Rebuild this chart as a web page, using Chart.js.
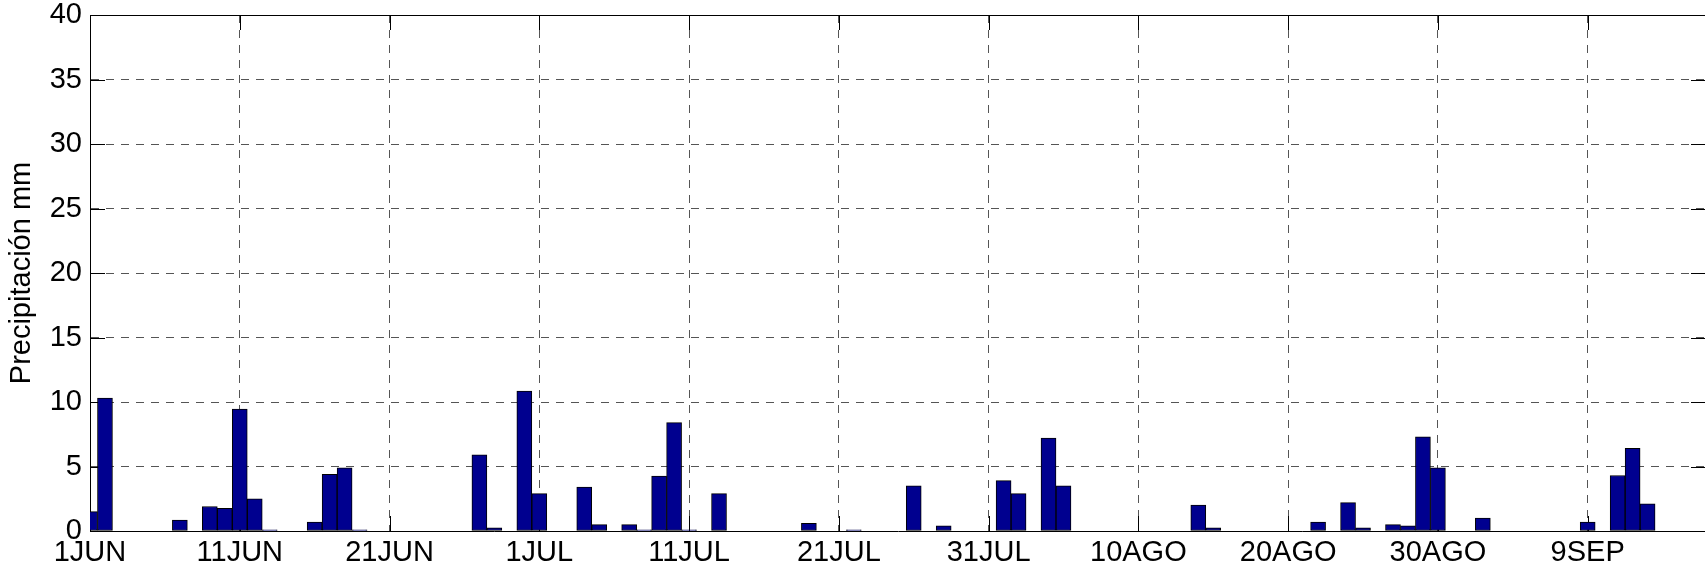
<!DOCTYPE html>
<html>
<head>
<meta charset="utf-8">
<script src="https://cdn.jsdelivr.net/npm/chart.js@4.4.1/dist/chart.umd.min.js"></script>
<style>
  html, body { margin: 0; padding: 0; background: #fff; overflow: hidden; }
  #wrap { width: 1712px; height: 572px; }
</style>
</head>
<body>
<div id="wrap"><canvas id="rain" width="1712" height="572"></canvas></div>
<script>
// daily precipitation (mm), one value per day starting 1 JUN
const precip = [
  1.5, 10.3, 0, 0, 0, 0, 0.85, 0, 1.9, 1.75,      // 1-10 JUN
  9.45, 2.5, 0.1, 0, 0, 0.7, 4.4, 4.9, 0.1, 0,    // 11-20 JUN
  0, 0, 0, 0, 0, 0, 5.9, 0.25, 0, 10.85,          // 21-30 JUN
  2.9, 0, 0, 3.4, 0.5, 0, 0.5, 0.1, 4.25, 8.4,    // 1-10 JUL
  0.1, 0, 2.9, 0, 0, 0, 0, 0, 0.6, 0,             // 11-20 JUL
  0, 0.1, 0, 0, 0, 3.5, 0, 0.4, 0, 0,             // 21-30 JUL
  0, 3.9, 2.9, 0, 7.2, 3.5, 0, 0, 0, 0,           // 31 JUL - 9 AGO
  0, 0, 0, 0, 2.0, 0.25, 0, 0, 0, 0,              // 10-19 AGO
  0, 0, 0.7, 0, 2.2, 0.25, 0, 0.5, 0.4, 7.3,      // 20-29 AGO
  4.9, 0, 0, 1.0, 0, 0, 0, 0, 0, 0,               // 30 AGO - 8 SEP
  0.7, 0, 4.3, 6.4, 2.1, 0, 0, 0                  // 9-16 SEP
];

const tickDays = [0, 10, 20, 30, 40, 50, 60, 70, 80, 90, 100];
const tickLabels = ['1JUN', '11JUN', '21JUN', '1JUL', '11JUL', '21JUL', '31JUL', '10AGO', '20AGO', '30AGO', '9SEP'];
const yTicks = [0, 5, 10, 15, 20, 25, 30, 35, 40];

const FONT = "'Liberation Sans', Arial, Helvetica, sans-serif";

// matlab style: solid box on top + small inward tick marks on all sides
const boxTicks = {
  id: 'boxTicks',
  beforeDatasetsDraw(chart) {
    const { ctx, chartArea: a, scales: { x, y } } = chart;
    const len = 15;
    ctx.save();
    ctx.strokeStyle = '#000';
    ctx.lineWidth = 1;
    ctx.beginPath();
    tickDays.forEach(d => {
      const px = Math.round(x.getPixelForValue(d)) + 0.5;
      ctx.moveTo(px, a.bottom); ctx.lineTo(px, a.bottom - len);
      ctx.moveTo(px, a.top); ctx.lineTo(px, a.top + len);
    });
    yTicks.forEach(v => {
      const py = Math.round(y.getPixelForValue(v)) + 0.5;
      ctx.moveTo(a.left, py); ctx.lineTo(a.left + len, py);
      ctx.moveTo(a.right, py); ctx.lineTo(a.right - len, py);
    });
    ctx.stroke();
    ctx.restore();
  },
  afterDraw(chart) {
    const { ctx, chartArea: a } = chart;
    ctx.save();
    ctx.strokeStyle = '#000';
    ctx.lineWidth = 1;
    ctx.beginPath();
    ctx.moveTo(a.left, Math.round(a.top) + 0.5);
    ctx.lineTo(a.right, Math.round(a.top) + 0.5);
    ctx.stroke();
    ctx.restore();
  }
};

new Chart(document.getElementById('rain'), {
  type: 'bar',
  data: {
    datasets: [{
      label: 'Precipitación',
      data: precip.map((v, i) => ({ x: i, y: v })),
      backgroundColor: 'rgb(0,0,143)',
      borderColor: '#000',
      borderWidth: 1,
      borderSkipped: false,
      barPercentage: 1,
      categoryPercentage: 1
    }]
  },
  options: {
    responsive: false,
    animation: false,
    layout: { padding: { top: 15, right: 6, left: 0, bottom: 0 } },
    plugins: { legend: { display: false }, tooltip: { enabled: false } },
    scales: {
      x: {
        type: 'linear',
        min: 0,
        max: 107.9,
        offset: false,
        afterBuildTicks: s => { s.ticks = tickDays.map(v => ({ value: v })); },
        afterFit: s => { s.height = 41; s.paddingLeft = 0; s.paddingRight = 0; },
        grid: { color: '#555', lineWidth: 1, drawTicks: false, offset: false },
        border: { display: true, color: '#000', width: 1, dash: [8, 7] },
        ticks: {
          autoSkip: false, maxRotation: 0, padding: 5, color: '#000',
          font: { family: FONT, size: 29 },
          callback: v => tickLabels[tickDays.indexOf(v)]
        }
      },
      y: {
        min: 0,
        max: 40,
        afterBuildTicks: s => { s.ticks = yTicks.map(v => ({ value: v })); },
        afterFit: s => { s.width = 90; s.paddingTop = 0; s.paddingBottom = 0; },
        grid: { color: '#555', lineWidth: 1, drawTicks: false },
        border: { display: true, color: '#000', width: 1, dash: [8, 7] },
        ticks: {
          padding: 8, color: '#000',
          font: { family: FONT, size: 29 }
        },
        title: {
          display: true,
          text: 'Precipitación mm',
          color: '#000',
          padding: { top: 5, bottom: 0 },
          font: { family: FONT, size: 29 }
        }
      }
    }
  },
  plugins: [boxTicks]
});
</script>
</body>
</html>
